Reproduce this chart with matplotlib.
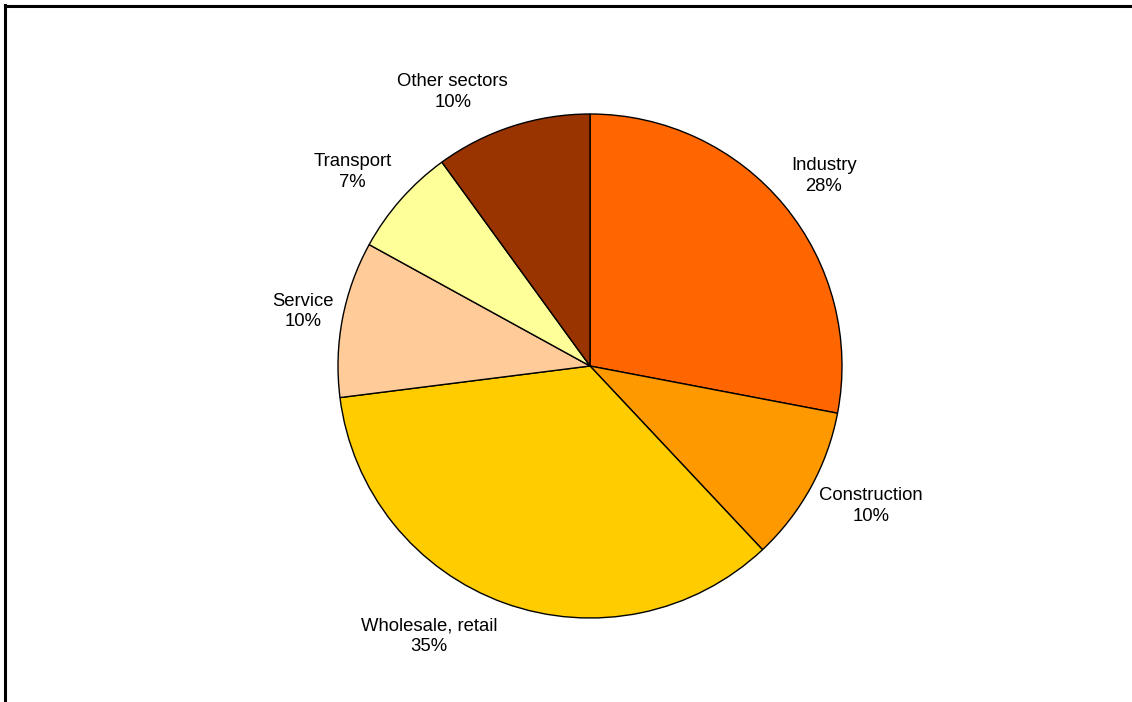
import matplotlib
matplotlib.use("Agg")
import matplotlib.pyplot as plt
from matplotlib.lines import Line2D
import numpy as np

categories = ["Industry", "Construction", "Wholesale, retail", "Service", "Transport", "Other sectors"]
values = [28, 10, 35, 10, 7, 10]
colors = ["#FF6600", "#FF9900", "#FFCC00", "#FFCC99", "#FFFF99", "#993300"]
# label placement: radial distance (fraction of radius) and angular shift (deg) from slice middle
label_dist = [1.196, 1.246, 1.248, 1.160, 1.217, 1.216]
label_shift = [-0.5, 2.3, -11.0, 0.0, 2.15, 8.6]

W, H = 1132, 702
fig = plt.figure(figsize=(W / 100, H / 100), dpi=100)
plt.rcParams['font.family'] = ['Liberation Sans', 'DejaVu Sans']

ax = fig.add_axes([0, 0, 1, 1])
ax.axis('off')

cx, cy, r = 590, H - 366, 252
wedges, _ = ax.pie(values, colors=colors, startangle=90, counterclock=False,
                   center=(cx, cy), radius=r,
                   wedgeprops=dict(edgecolor='black', linewidth=1.0))
ax.set_xlim(0, W)
ax.set_ylim(0, H)
ax.set_aspect('equal')

total = sum(values)
cum = 0
for cat, v, d, s in zip(categories, values, label_dist, label_shift):
    mid = cum + v / 2
    cum += v
    ang = np.deg2rad(90 - 360 * mid / total + s)
    x = cx + d * r * np.cos(ang)
    y = cy + d * r * np.sin(ang)
    ax.text(x, y, f"{cat}\n{v}%", ha='center', va='center', fontsize=13.3,
            linespacing=1.25, color='black')

# chart frame (left and top edges visible)
fig.add_artist(Line2D([5 / W, 5 / W], [0, 1 - 5 / H], transform=fig.transFigure,
                      color='black', linewidth=2.2))
fig.add_artist(Line2D([5 / W, 1], [1 - 6 / H, 1 - 6 / H], transform=fig.transFigure,
                      color='black', linewidth=2.2))

fig.savefig("out.png", dpi=100, facecolor='white')
